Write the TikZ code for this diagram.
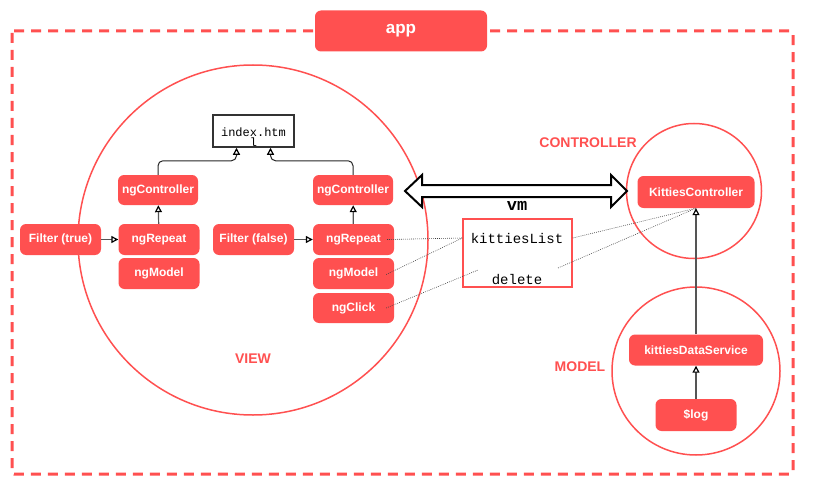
\documentclass[tikz,border=0pt]{standalone}
\usepackage{fontspec}
\setmainfont{Liberation Sans}
\newfontfamily\monofont{Liberation Mono}
\usetikzlibrary{arrows.meta}
\definecolor{appred}{RGB}{255,80,80}
\definecolor{edgegray}{RGB}{85,85,85}
\begin{document}
\begin{tikzpicture}[x=1pt,y=-1pt,
  redbox/.style={rectangle, rounded corners=6pt, fill=appred, text=white,
    font=\bfseries\fontsize{12}{14}\selectfont, minimum height=31pt, inner sep=0pt},
  zone/.style={draw=appred, line width=1.5pt},
  zonelabel/.style={text=appred, font=\bfseries\fontsize{14}{16}\selectfont, inner sep=0pt},
  conn/.style={draw=edgegray, line width=1.2pt,
    -{Triangle[open, length=7pt, width=7pt, line width=1.2pt, color=black, fill=white]}},
  link/.style={draw=black!75, line width=0.6pt, dash pattern=on 0.8pt off 1.2pt},
  monotext/.style={font=\monofont\fontsize{14}{16}\selectfont, inner sep=0pt},
]
\useasboundingbox (0,0) rectangle (816,500);

% app frame
\draw[draw=appred, line width=3pt, dash pattern=on 10pt off 7pt, rounded corners=2pt]
  (12,31) rectangle (793,474);
\node[redbox, minimum width=172pt, minimum height=41pt, font=\bfseries\fontsize{17}{20}\selectfont] (app) at (401,31) {app};

% zones
\draw[zone] (253,240) circle [radius=175pt];
\draw[zone] (694,191) circle [radius=67.5pt];
\draw[zone] (696,371) circle [radius=84pt];

\node[zonelabel] (viewlbl) at (253,359) {VIEW};
\node[zonelabel] (ctrllbl) at (588,143) {CONTROLLER};
\node[zonelabel] (modellbl) at (580,367) {MODEL};

% view nodes
\node[draw=black!80, line width=1.5pt, fill=white, minimum width=81pt, minimum height=32pt,
  inner sep=0pt, font=\monofont\fontsize{12}{10}\selectfont, text height=10pt, text depth=0pt]
  (idx) at (253.5,131) {\begin{tabular}[t]{@{}c@{}}index.htm\\[-1.2pt]l\end{tabular}};

\node[redbox, minimum width=80pt, minimum height=30pt] (ngCL) at (158,190) {ngController};
\node[redbox, minimum width=80pt, minimum height=30pt] (ngCR) at (353,190) {ngController};
\node[redbox, minimum width=81pt] (ftrue) at (60.5,239.5) {Filter (true)};
\node[redbox, minimum width=81pt] (ngRL) at (159,239.5) {ngRepeat};
\node[redbox, minimum width=81pt] (ngML) at (159,273.5) {ngModel};
\node[redbox, minimum width=81pt] (ffalse) at (253.5,239.5) {Filter (false)};
\node[redbox, minimum width=81pt] (ngRR) at (353.5,239.5) {ngRepeat};
\node[redbox, minimum width=81pt] (ngMR) at (353.5,273.5) {ngModel};
\node[redbox, minimum width=81pt, minimum height=30pt] (ngClk) at (353.5,308) {ngClick};

% view edges
\draw[conn] (ftrue) -- (ngRL);
\draw[conn] (ffalse) -- (ngRR);
\draw[conn] (ngRL) -- (ngCL);
\draw[conn] (ngRR) -- (ngCR);
\draw[conn, draw=black!85, line width=1pt, rounded corners=5pt] (ngCL.north) |- ([xshift=-17pt,yshift=-13pt]idx.south) -- ([xshift=-17pt]idx.south);
\draw[conn, draw=black!85, line width=1pt, rounded corners=5pt] (ngCR.north) |- ([xshift=17pt,yshift=-13pt]idx.south) -- ([xshift=17pt]idx.south);

% controller / model
\node[redbox, minimum width=117pt, minimum height=32pt] (kc) at (696,192) {KittiesController};
\node[redbox, minimum width=134pt] (kds) at (696,350) {kittiesDataService};
\node[redbox, minimum width=81pt, minimum height=32pt] (log) at (696,415) {\$log};
\draw[conn] (log) -- (kds);
\draw[conn] (kds.north -| kc.south) -- (kc.south);

% vm double arrow
\draw[line width=2pt, fill=white, line join=miter]
  (405,191) -- (422,175) -- (422,185) -- (611,185) -- (611,175) -- (627,191)
  -- (611,207) -- (611,197) -- (422,197) -- (422,207) -- cycle;
\node[font=\monofont\bfseries\fontsize{17}{19}\selectfont, inner sep=0pt] (vmlbl) at (517,206) {vm};

% vm box
\node[draw=appred, line width=1.5pt, fill=white, minimum width=109pt, minimum height=68pt, inner sep=0pt] (vmbox) at (517.5,253) {};
\node[monotext] (kl) at (517,238) {kittiesList};
\node[monotext] (del) at (517,280) {delete};
\coordinate (clickend) at (478,270);
\coordinate (delstart) at (558,268);

% bindings
\draw[link] ([xshift=-7pt]ngRR.east) -- (vmbox.west |- kl);
\draw[link] ([xshift=-8pt,yshift=-1pt]ngMR.east) -- (vmbox.west |- kl);
\draw[link] ([xshift=-8pt]ngClk.east) -- (clickend);
\draw[link] (vmbox.east |- kl) -- (kc.south);
\draw[link] (delstart) -- (kc.south);
\end{tikzpicture}
\end{document}
